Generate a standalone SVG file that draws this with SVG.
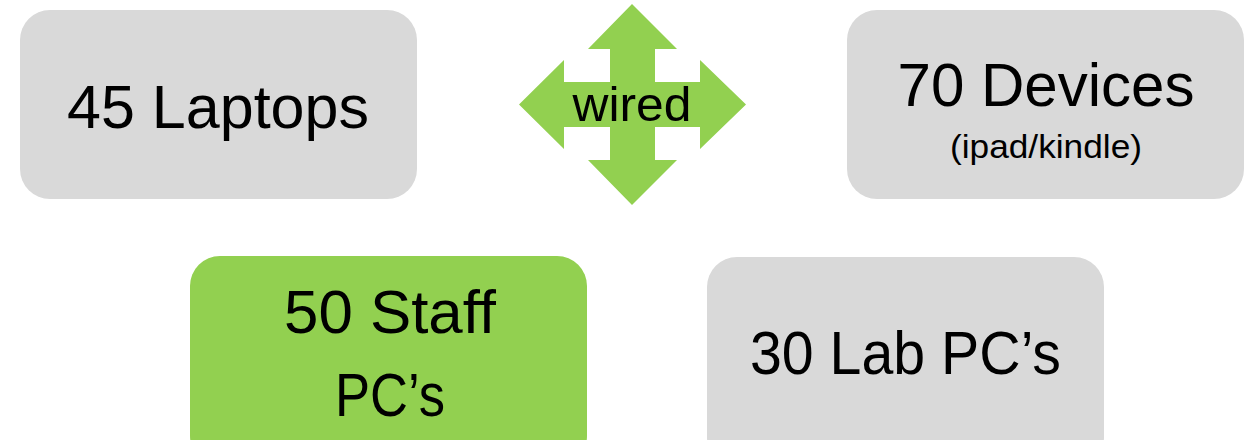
<svg xmlns="http://www.w3.org/2000/svg" width="1258" height="440" viewBox="0 0 1258 440">
  <style>
    .gray { fill: #D9D9D9; }
    .green { fill: #92D050; }
    .t { font-family: "Liberation Sans", Arial, sans-serif; fill: #000; text-anchor: middle; }
    .big { font-size: 61px; }
    .small { font-size: 33px; }
    .mid { font-size: 48px; }
  </style>
  <rect width="1258" height="440" fill="#FFFFFF"/>
  <g id="laptops">
    <rect class="gray" x="20" y="10" width="397" height="189" rx="30" ry="30"/>
    <text class="t big" x="218" y="128" textLength="302" lengthAdjust="spacingAndGlyphs">45 Laptops</text>
  </g>
  <g id="devices">
    <rect class="gray" x="847" y="10" width="397" height="189" rx="30" ry="30"/>
    <text class="t big" x="1046" y="106" textLength="297" lengthAdjust="spacingAndGlyphs">70 Devices</text>
    <text class="t small" x="1046" y="158" textLength="192" lengthAdjust="spacingAndGlyphs">(ipad/kindle)</text>
  </g>
  <g id="staff">
    <rect class="green" x="190" y="256" width="397" height="210" rx="30" ry="30"/>
    <text class="t big" x="390" y="333" textLength="212" lengthAdjust="spacingAndGlyphs">50 Staff</text>
    <text class="t big" x="390" y="416" textLength="110" lengthAdjust="spacingAndGlyphs">PC’s</text>
  </g>
  <g id="lab">
    <rect class="gray" x="707" y="257" width="397" height="210" rx="30" ry="30"/>
    <text class="t big" x="905.5" y="374" textLength="311" lengthAdjust="spacingAndGlyphs">30 Lab PC’s</text>
  </g>
  <g id="wired">
    <polygon class="green" points="632,4 677,49 655,49 655,82 700,82 700,60 746,104.5 700,149 700,127 655,127 655,160 677,160 632,205 588,160 610,160 610,127 564,127 564,149 519,104.5 564,60 564,82 610,82 610,49 588,49"/>
    <text class="t mid" x="632" y="121" textLength="119" lengthAdjust="spacingAndGlyphs">wired</text>
  </g>
  <g id="connectors"></g>
</svg>
